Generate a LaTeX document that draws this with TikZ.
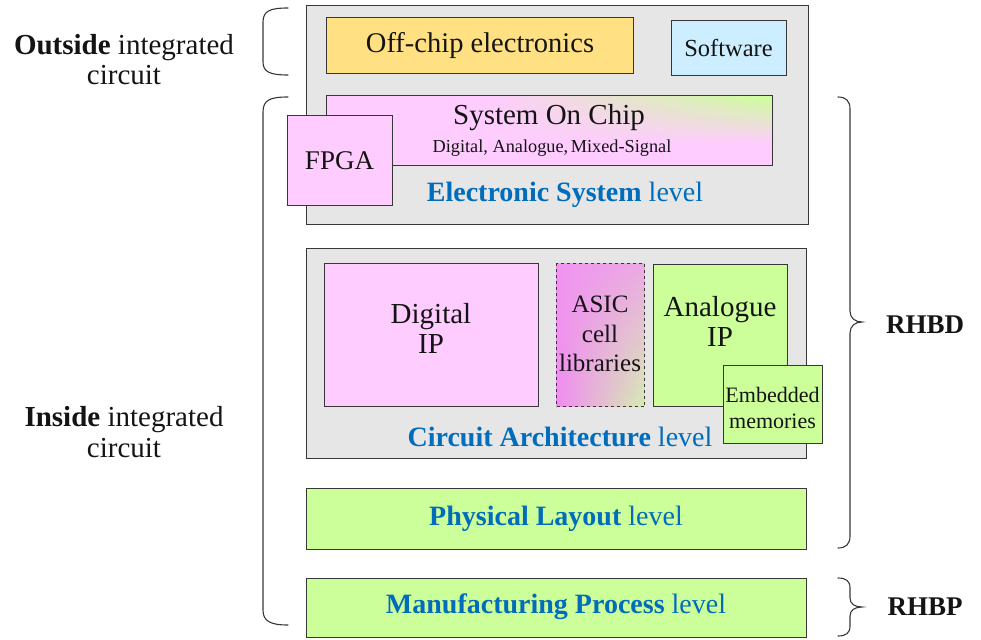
\documentclass[tikz,border=0pt]{standalone}
\usepackage{fontspec}
\setmainfont{Liberation Serif}
\usetikzlibrary{calc,shadings}
\definecolor{grayf}{RGB}{230,230,230}
\definecolor{edge}{RGB}{55,55,55}
\definecolor{yel}{RGB}{255,224,130}
\definecolor{sky}{RGB}{204,238,255}
\definecolor{pinkc}{RGB}{255,204,255}
\definecolor{grn}{RGB}{204,255,153}
\definecolor{blu}{RGB}{0,108,188}
\definecolor{txt}{RGB}{20,20,20}
\definecolor{asicA}{RGB}{240,148,240}
\definecolor{asicB}{RGB}{236,168,228}
\definecolor{asicC}{RGB}{240,140,240}
\definecolor{asicD}{RGB}{214,236,178}
\newcommand{\fsz}[2]{\fontsize{#1}{#2}\selectfont}
\tikzset{
  box/.style={draw=edge, line width=1.1pt, rectangle, anchor=north west, inner sep=0pt},
  lbl/.style={text=txt, align=center, inner sep=0pt},
  lvl/.style={text=blu, inner sep=0pt, font=\fsz{28}{30}},
  brc/.style={draw=edge, line width=1.1pt, line cap=round}
}
\begin{document}
\begin{tikzpicture}[x=1pt,y=-1pt]
\useasboundingbox (0,0) rectangle (981,639);
% top gray level
\node[box, fill=grayf, minimum width=502pt, minimum height=219pt] (esl) at (306,5) {};
\node[box, fill=yel, minimum width=307pt, minimum height=56pt] (off) at (326,17) {};
\node[lbl, font=\fsz{28.5}{30}] (offt) at (480,46) {Off-chip electronics};
\node[box, fill=sky, minimum width=115pt, minimum height=55pt] (sw) at (671,20) {};
\node[lbl, font=\fsz{24.5}{26}] (swt) at (728.5,48) {Software};
\node[box, fill=pinkc, minimum width=446pt, minimum height=70pt] (soc) at (326,95) {};
\foreach \i in {0,...,23} {
  \foreach \j in {0,...,28} {
    \pgfmathsetmacro\p{100*(\j+0.5)/29*(1-\i/24)}
    \fill[grn!\p!pinkc]
      ($(soc.north east)+(-290+10*\j,2*\i)$) rectangle ($(soc.north east)+(-279.6+10*\j,2*\i+2.3)$);
  }
}
\node[box, minimum width=446pt, minimum height=70pt] (socb) at (326,95) {};
\node[lbl, font=\fsz{29}{30}] (soct) at (549,118) {System On Chip};
\node[lbl, font=\fsz{18.3}{20}] (socs) at (552,148) {Digital, Analogue,\kern2.5pt Mixed-Signal};
\node[box, fill=pinkc, minimum width=105pt, minimum height=90pt] (fpga) at (287,115) {};
\node[lbl, font=\fsz{27}{30}] (fpgat) at (339.5,161) {FPGA};
\node[lvl] (eslt) at (565,195) {\textbf{Electronic System} level};
% circuit architecture level
\node[box, fill=grayf, minimum width=500pt, minimum height=210pt] (cal) at (306,248) {};
\node[box, fill=pinkc, minimum width=214pt, minimum height=143pt] (dig) at (324,263) {};
\node[lbl, font=\fsz{29}{30}] (digt) at (431,328) {Digital\\IP};
\node[box, dashed, shade, upper left=asicA, upper right=asicB, lower left=asicC, lower right=asicD, minimum width=88pt, minimum height=143pt] (asic) at (556,263) {};
\node[lbl, font=\fsz{25}{29.5}] (asict) at (600,334) {ASIC\\cell\\libraries};
\node[box, fill=grn, minimum width=134pt, minimum height=142pt] (ana) at (653,264) {};
\node[lbl, font=\fsz{29}{30}] (anat) at (720,321) {Analogue\\IP};
\node[box, fill=grn, minimum width=99pt, minimum height=78pt] (emb) at (723,365) {};
\node[lbl, font=\fsz{22}{26}] (embt) at (772.5,408) {Embedded\\memories};
\node[lvl] (calt) at (560,437) {\textbf{Circuit Architecture} level};
% physical & manufacturing
\node[box, fill=grn, minimum width=500pt, minimum height=61pt] (phy) at (306,488) {};
\node[lvl] (phyt) at (556,519) {\textbf{Physical Layout} level};
\node[box, fill=grn, minimum width=500pt, minimum height=59pt] (man) at (306,578) {};
\node[lvl] (mant) at (556,607) {\textbf{Manufacturing Process} level};
% left labels and braces
\node[lbl, font=\fsz{29}{30}] (outl) at (124,60) {\textbf{Outside} integrated\\circuit};
\node[lbl, font=\fsz{29}{31}] (inl) at (124,432) {\textbf{Inside} integrated\\circuit};
\draw[brc] (288,8) .. controls (270,8) and (263,11) .. (263,22) -- (263,62) .. controls (263,72) and (270,75) .. (288,75);
\draw[brc] (288,97) .. controls (270,97) and (263,100) .. (263,112) -- (263,610) .. controls (263,621) and (270,625) .. (288,625);
% right braces and labels
\draw[brc] (838,97) .. controls (846,97) and (850,101) .. (850,109) -- (850,311) .. controls (850,318) and (855,322) .. (862,322) .. controls (855,322) and (850,326) .. (850,333) -- (850,536) .. controls (850,544) and (846,548) .. (838,548);
\draw[brc] (838,578) .. controls (846,578) and (850,581) .. (850,588) -- (850,598) .. controls (850,604) and (855,607) .. (862,607) .. controls (855,607) and (850,610) .. (850,616) -- (850,626) .. controls (850,633) and (846,636) .. (838,636);
\node[lbl, font=\fsz{27}{30}] (rhbd) at (925,325) {\textbf{RHBD}};
\node[lbl, font=\fsz{27}{30}] (rhbp) at (925,607) {\textbf{RHBP}};
\end{tikzpicture}
\end{document}
